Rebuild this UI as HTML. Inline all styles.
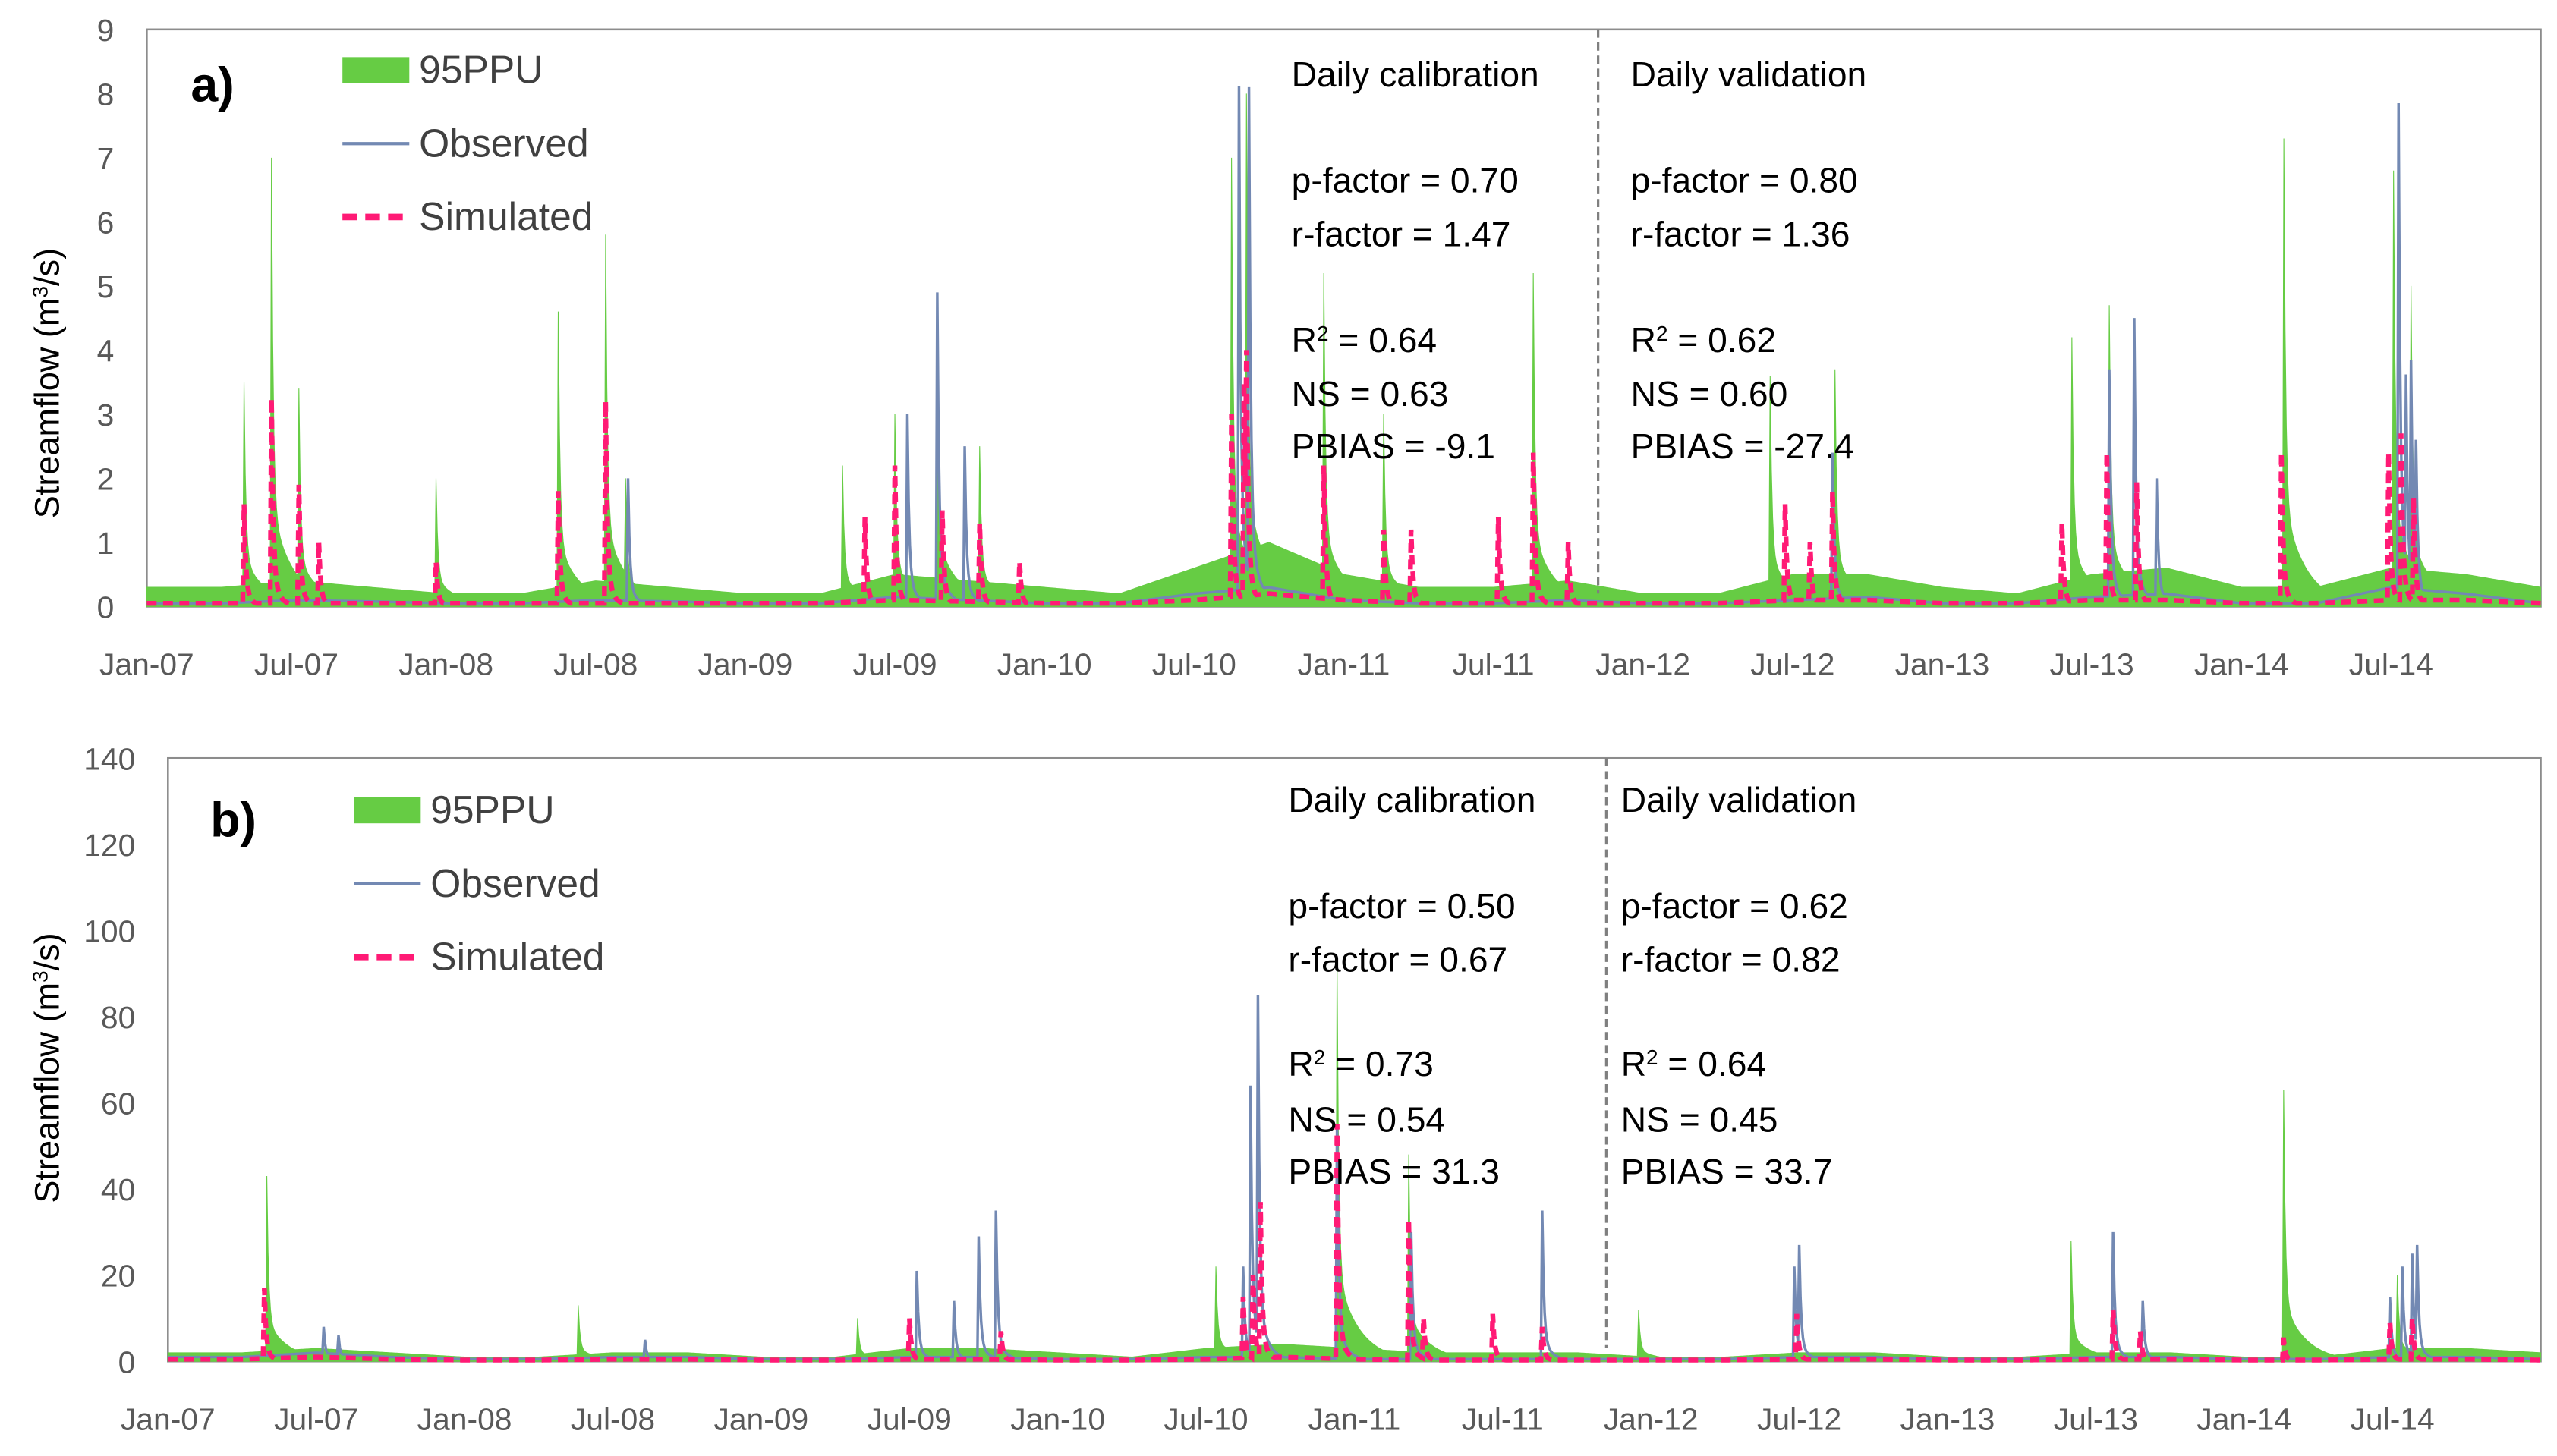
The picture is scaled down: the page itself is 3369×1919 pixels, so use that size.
<!DOCTYPE html>
<html><head><meta charset="utf-8"><style>
html,body{margin:0;padding:0;background:#fff;}
svg{display:block;font-family:"Liberation Sans","DejaVu Sans",sans-serif;}
</style></head><body>
<svg id="chart" width="3369" height="1919" viewBox="0 0 1568 893" xmlns="http://www.w3.org/2000/svg"></svg>
<script>
// ---- Panel a data (time in months since Jan-07) ----
const xLabels = ["Jan-07","Jul-07","Jan-08","Jul-08","Jan-09","Jul-09","Jan-10","Jul-10","Jan-11","Jul-11","Jan-12","Jul-12","Jan-13","Jul-13","Jan-14","Jul-14"];
const yTicksA = [0,1,2,3,4,5,6,7,8,9];
const yTicksB = [0,20,40,60,80,100,120,140];
const bandBaseA = [0.3,0.3,0.4,0.3,0.2,0.2,0.4,0.3,0.2,0.2,0.5,0.4,0.3,0.2,0.6,1.0,0.5,0.3,0.3,0.4,0.2,0.2,0.5,0.5,0.3,0.2,0.5,0.6,0.3,0.3,0.6,0.5,0.3];
const bandSpikeTA = [3.9,5.0,6.1,11.6,16.5,18.4,19.2,27.9,30.0,31.7,33.4,43.5,44.1,47.2,49.6,55.6,65.1,67.7,77.2,78.7,85.7,90.1,90.8];
const bandSpikeVA = [3.5,7.0,3.4,2.0,4.6,5.8,2.0,2.2,3.0,4.7,2.5,7.0,8.0,5.2,3.0,5.2,3.6,3.7,4.2,4.7,7.3,6.8,5.0];
const obsBaseA = [0.05,0.05,0.1,0.08,0.05,0.05,0.1,0.08,0.05,0.05,0.15,0.1,0.05,0.05,0.2,0.3,0.1,0.05,0.05,0.1,0.05,0.05,0.1,0.15,0.05,0.05,0.15,0.2,0.05,0.05,0.3,0.2,0.05];
const obsSpikeTA = [19.3,30.5,31.7,32.8,43.8,44.2,67.6,78.7,79.7,80.6,90.3,90.6,90.8,91.0];
const obsSpikeVA = [2.0,3.0,4.9,2.5,8.1,8.1,2.4,3.7,4.5,2.0,7.85,3.6,3.85,2.6];
const simBaseA = [0.05,0.05,0.05,0.05,0.05,0.05,0.05,0.05,0.05,0.05,0.1,0.08,0.05,0.05,0.1,0.2,0.1,0.05,0.05,0.05,0.05,0.05,0.1,0.1,0.05,0.05,0.1,0.1,0.05,0.05,0.1,0.1,0.05];
const simSpikeTA = [3.9,5.0,6.1,6.9,11.6,16.5,18.4,28.8,30.0,31.9,33.4,35.0,43.5,44.0,44.1,47.2,49.6,50.7,54.2,55.6,57.0,65.7,66.7,67.6,76.8,78.6,79.8,85.6,89.9,90.4,90.9];
const simSpikeVA = [1.6,3.25,1.9,1.0,0.7,1.8,3.2,1.4,2.2,1.5,1.3,0.7,3.0,3.5,4.0,2.2,1.2,1.2,1.4,2.4,1.0,1.6,1.0,1.8,1.3,2.4,1.9,2.4,2.4,2.7,1.7];
// ---- Panel b data ----
const bandBaseB = [2,2,3,2,1,1,2,2,1,1,3,3,2,1,3,4,3,2,2,2,1,1,2,2,1,1,2,2,1,1,3,3,2];
const bandSpikeTB = [4.0,16.6,27.9,42.4,47.3,50.2,59.5,77.0,85.6,90.2];
const bandSpikeVB = [43,13,10,22,93,48,12,28,63,20];
const obsBaseB = [1,1,2,1,0.5,0.5,1,1,0.5,0.5,1,1,0.5,0.5,1,1,0.5,0.5,0.5,0.5,0.5,0.5,1,1,0.5,0.5,1,1,0.5,0.5,1,1,0.5];
const obsSpikeTB = [6.3,6.9,19.3,30.3,31.8,32.8,33.5,43.5,43.8,44.1,47.3,50.3,55.6,65.8,66.0,78.7,79.9,89.9,90.4,90.8,91.0];
const obsSpikeVB = [8,6,5,21,14,29,35,22,64,85,55,30,35,22,27,30,14,15,22,25,27];
const simBaseB = [0.5,0.5,1,0.5,0.3,0.3,0.5,0.5,0.3,0.3,0.5,0.5,0.3,0.3,0.5,1,0.5,0.3,0.3,0.3,0.3,0.3,0.5,0.5,0.3,0.3,0.5,0.5,0.3,0.3,0.5,0.5,0.3];
const simSpikeTB = [3.9,30.0,33.7,43.5,43.9,44.2,47.3,50.2,50.8,53.6,55.6,65.9,78.7,79.8,85.6,89.9,90.8];
const simSpikeVB = [17,10,7,15,20,37,55,33,10,11,8,11,12,7,5,9,10];

const NS="http://www.w3.org/2000/svg";
const svg=document.getElementById('chart');
function mk(tag,attrs,parent){const e=document.createElementNS(NS,tag);for(const k in attrs)e.setAttribute(k,attrs[k]);(parent||svg).appendChild(e);return e;}

function series(base,ts,vs,tailFrac,tailDecay){
  const pts=[];
  for(let i=0;i<=1920;i++){
    const t=i*0.05;
    const q=t/3, k=Math.min(31,Math.floor(q)), f=q-k;
    let v=base[k]*(1-f)+base[k+1]*f;
    for(let j=0;j<ts.length;j++){
      const dt=t-ts[j];
      let s=0;
      if(Math.abs(dt)<0.026) s=vs[j];
      else if(dt>0) s=vs[j]*((1-tailFrac)*Math.exp(-dt/0.07)+tailFrac*Math.exp(-dt/tailDecay));
      if(s>v) v=s;
    }
    pts.push([t,v]);
  }
  ts.forEach((t,j)=>pts.push([t,vs[j]]));
  pts.sort((a,b)=>a[0]-b[0]);
  return pts;
}

function panel(cfg){
  const g=mk('g',{});
  
  
  const X=t=>cfg.x0+t*(cfg.x1-cfg.x0)/96;
  const Y=v=>cfg.yb-v*(cfg.yb-cfg.yt)/cfg.ymax;
  const frame=mk('rect',{x:cfg.x0,y:cfg.yt,width:cfg.x1-cfg.x0,height:cfg.yb-cfg.yt,fill:'none',stroke:'#8c8c8c','stroke-width':1.2},g);
  
  
  cfg.yticks.forEach(v=>{
    const t=mk('text',{x:cfg.x0-20,y:Y(v)+7,'text-anchor':'end','font-size':19,fill:'#595959'},g);
    t.textContent=v;
    
    
  });
  xLabels.forEach((l,i)=>{
    const t=mk('text',{x:X(i*6),y:cfg.xly,'text-anchor':'middle','font-size':19,fill:'#595959'},g);
    t.textContent=l;
    
    
  });
  const band=series(cfg.bandBase,cfg.bandT,cfg.bandV,0.22,0.9);
  let d='M'+X(0)+','+Y(0);
  band.forEach(p=>{d+='L'+X(p[0]).toFixed(2)+','+Y(Math.min(p[1],cfg.ymax)).toFixed(2);});
  d+='L'+X(96)+','+Y(0)+'Z';
  const bp=mk('path',{d:d,fill:'#66cc44',stroke:'#66cc44','stroke-width':0.5},g);
  
  
  const obs=series(cfg.obsBase,cfg.obsT,cfg.obsV,0.15,0.4);
  const op=mk('polyline',{points:obs.map(p=>X(p[0]).toFixed(2)+','+Y(p[1]).toFixed(2)).join(' '),fill:'none',stroke:'#7389b3','stroke-width':1.6},g);
  
  
  const sim=series(cfg.simBase,cfg.simT,cfg.simV,0.15,0.3);
  const sp=mk('polyline',{points:sim.map(p=>X(p[0]).toFixed(2)+','+Y(p[1]).toFixed(2)).join(' '),fill:'none',stroke:'#ff1a75','stroke-width':3,'stroke-dasharray':'6,4'},g);
  
  
  const dv=mk('line',{x1:cfg.divX,x2:cfg.divX,y1:cfg.yt,y2:cfg.yb-8,stroke:'#7f7f7f','stroke-width':1.5,'stroke-dasharray':'5,3'},g);
  
  
  const pl=mk('text',{x:cfg.lx,y:cfg.ly,'font-size':30,'font-weight':'bold',fill:'#000'},g);
  pl.textContent=cfg.label;
  
  
  const r=mk('rect',{x:cfg.legX,y:cfg.legY-8,width:41,height:16,fill:'#66cc44'},g);
  
  
  const l1=mk('line',{x1:cfg.legX,x2:cfg.legX+41,y1:cfg.legY+45,y2:cfg.legY+45,stroke:'#7389b3','stroke-width':2},g);
  
  
  const l2=mk('line',{x1:cfg.legX,x2:cfg.legX+41,y1:cfg.legY+90,y2:cfg.legY+90,stroke:'#ff1a75','stroke-width':4,'stroke-dasharray':'9,5'},g);
  
  
  [['95PPU',0],['Observed',45],['Simulated',90]].forEach(a=>{
    const t=mk('text',{x:cfg.legX+47,y:cfg.legY+a[1]+8,'font-size':24,fill:'#404040'},g);
    t.textContent=a[0];
    
    
  });
  cfg.stats.forEach(col=>{
    col.lines.forEach((ln,i)=>{
      const t=mk('text',{x:col.x,y:cfg.sy[i]+8,'font-size':21.5,fill:'#000'},g);
      t.innerHTML=ln;
      
      
    });
  });
  const yt=mk('text',{transform:'translate('+cfg.ytx+','+cfg.yty+') rotate(-90)','text-anchor':'middle','font-size':21,fill:'#000'},g);
  yt.innerHTML='Streamflow (m<tspan baseline-shift="super" font-size="13">3</tspan>/s)';
  
  
}

panel({name:'panel-a',x0:90,x1:1558,yt:18,yb:372,ymax:9,yticks:yTicksA,xly:414,
  bandBase:bandBaseA,bandT:bandSpikeTA,bandV:bandSpikeVA,obsBase:obsBaseA,obsT:obsSpikeTA,obsV:obsSpikeVA,simBase:simBaseA,simT:simSpikeTA,simV:simSpikeVA,
  divX:980,label:'a)',lx:117,ly:62,legX:210,legY:43,sy:[45,110,143,208,241,273],ytx:36,yty:235,
  stats:[{x:792,lines:['Daily calibration','p-factor = 0.70','r-factor = 1.47','R<tspan baseline-shift="super" font-size="13">2</tspan> = 0.64','NS = 0.63','PBIAS = -9.1']},
         {x:1000,lines:['Daily validation','p-factor = 0.80','r-factor = 1.36','R<tspan baseline-shift="super" font-size="13">2</tspan> = 0.62','NS = 0.60','PBIAS = -27.4']}]});
panel({name:'panel-b',x0:103,x1:1558,yt:465,yb:835,ymax:140,yticks:yTicksB,xly:877,
  bandBase:bandBaseB,bandT:bandSpikeTB,bandV:bandSpikeVB,obsBase:obsBaseB,obsT:obsSpikeTB,obsV:obsSpikeVB,simBase:simBaseB,simT:simSpikeTB,simV:simSpikeVB,
  divX:985,label:'b)',lx:129,ly:513,legX:217,legY:497,sy:[490,555,588,652,686,718],ytx:36,yty:655,
  stats:[{x:790,lines:['Daily calibration','p-factor = 0.50','r-factor = 0.67','R<tspan baseline-shift="super" font-size="13">2</tspan> = 0.73','NS = 0.54','PBIAS = 31.3']},
         {x:994,lines:['Daily validation','p-factor = 0.62','r-factor = 0.82','R<tspan baseline-shift="super" font-size="13">2</tspan> = 0.64','NS = 0.45','PBIAS = 33.7']}]});
</script>
</body></html>
